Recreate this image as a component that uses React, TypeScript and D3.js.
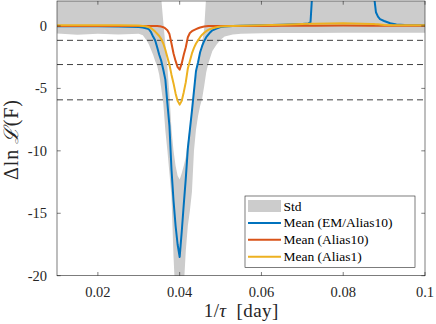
import { useEffect, useRef } from "react";
import * as d3 from "d3";

// x grid (1/tau, per day)
const freq = [
  0.010, 0.015, 0.020, 0.025, 0.030, 0.031,
  0.0320, 0.0325, 0.0330, 0.0335, 0.0340, 0.0345, 0.0350, 0.0355, 0.0360, 0.0365,
  0.0370, 0.0375, 0.0380, 0.0385, 0.0390, 0.0395, 0.0400, 0.0405, 0.0410, 0.0415,
  0.0420, 0.0425, 0.0430, 0.0435, 0.0440, 0.0445, 0.0450, 0.0455, 0.0460, 0.0465,
  0.0470, 0.0475, 0.0480, 0.049, 0.050, 0.051, 0.053, 0.055, 0.060, 0.065,
  0.070, 0.0715, 0.0720, 0.0725, 0.0730, 0.080, 0.0870, 0.0875, 0.0880, 0.0885,
  0.0890, 0.0900, 0.0915, 0.0930, 0.0950, 0.100,
];

const meanEM = [
  -0.03, -0.03, -0.03, -0.04, -0.08, -0.12,
  -0.2, -0.28, -0.5, -0.85, -1.15, -1.7, -2.3, -2.8, -3.5, -4.3,
  -6.2, -8.0, -11.5, -14.0, -16.0, -17.5, -18.5, -16.5, -14.3, -12.2,
  -9.8, -8.3, -6.8, -5.2, -3.6, -2.9, -2.1, -1.6, -1.2, -0.9,
  -0.7, -0.5, -0.35, -0.2, -0.08, -0.04, 0.0, 0.02, 0.05, 0.1,
  0.15, 0.2, 0.3, 3.0, 12, 12, 12, 2.5, 1.1, 0.75,
  0.55, 0.4, 0.22, 0.12, 0.08, 0.05,
];

const meanAlias10 = [
  0.0, 0.0, 0.0, 0.0, 0.0, 0.0,
  0.0, 0.0, 0.0, 0.0, 0.0, 0.0, -0.02, -0.05, -0.1, -0.2,
  -0.35, -0.65, -1.4, -2.2, -2.8, -3.3, -3.5, -3.0, -2.3, -1.7,
  -0.9, -0.56, -0.42, -0.33, -0.25, -0.18, -0.12, -0.08, -0.05, -0.02,
  0.0, 0.0, 0.0, 0.0, 0.0, 0.0, 0.0, 0.0, 0.0, 0.01,
  0.02, 0.02, 0.02, 0.02, 0.02, 0.03, 0.02, 0.02, 0.02, 0.02,
  0.02, 0.02, 0.02, 0.02, 0.02, 0.02,
];

const meanAlias1 = [
  0.05, 0.05, 0.05, 0.05, 0.03, 0.0,
  -0.05, -0.1, -0.17, -0.3, -0.45, -0.62, -0.8, -1.05, -1.4, -1.9,
  -2.5, -3.1, -3.9, -4.6, -5.4, -6.0, -6.3, -6.0, -5.3, -4.5,
  -3.4, -2.8, -2.2, -1.75, -1.4, -1.15, -0.9, -0.7, -0.55, -0.42,
  -0.32, -0.24, -0.18, -0.1, -0.05, -0.02, 0.0, 0.02, 0.05, 0.1,
  0.15, 0.17, 0.17, 0.17, 0.18, 0.22, 0.15, 0.15, 0.14, 0.13,
  0.12, 0.08, 0.06, 0.05, 0.05, 0.05,
];

const stdLow = [
  -0.6, -0.7, -0.62, -0.68, -0.62, -0.75,
  -1.2, -1.5, -1.9, -2.3, -2.8, -3.2, -3.9, -5.0, -6.2, -8.4,
  -10.0, -11.8, -13.7, -18.5, -22, -25, -26, -25, -21, -18,
  -16, -14.8, -13.3, -10, -8.3, -7.2, -6.4, -5.8, -4.8, -3.7,
  -3.0, -2.5, -2.0, -1.5, -1.1, -0.85, -0.68, -0.62, -0.58, -0.57,
  -0.56, -0.56, -0.56, -0.56, -0.56, -0.55, -0.55, -0.55, -0.55, -0.55,
  -0.55, -0.55, -0.55, -0.55, -0.55, -0.55,
];

const stdHigh = [
  3, 3, 3, 3, 3, 3,
  3, 3, 3, 3, 3, 3, 3, 2.2, 0.3, -1.5,
  -3.3, -5.5, -8.3, -10, -11.2, -12, -12.3, -11.8, -11.2, -10.5,
  -9.2, -8.0, -6.6, -5.2, -4.0, -3.1, -2.2, -1.3, -0.2, 2.5,
  3, 3, 3, 3, 3, 3, 3, 3, 3, 3,
  3, 3, 3, 3, 3, 3, 3, 3, 3, 3,
  3, 3, 3, 3, 3, 3,
];

// confidence thresholds
const thresholds = [-1.15, -3.09, -5.915];

const xTicks = [0.02, 0.04, 0.06, 0.08, 0.1];
const yTicks = [0, -5, -10, -15, -20];

const series = [
  { name: "Mean (EM/Alias10)", values: meanEM, color: "#0072BD" },
  { name: "Mean (Alias10)", values: meanAlias10, color: "#D95319" },
  { name: "Mean (Alias1)", values: meanAlias1, color: "#EDB120" },
];

const App = () => {
  const svgRef = useRef<SVGSVGElement>(null);
  const width = 436;
  const height = 324;

  useEffect(() => {
    const svg = d3.select(svgRef.current);
    svg.selectAll("*").remove();

    const left = 57, right = 425, top = 1, bottom = 275.7;
    const axisColor = "#262626";
    const font = "'Liberation Serif', 'Times New Roman', serif";

    const x = d3.scaleLinear().domain([0.01, 0.1]).range([left, right]);
    const y = d3.scaleLinear().domain([-20, 2]).range([bottom, top]);

    svg.append("clipPath").attr("id", "plotclip")
      .append("rect")
      .attr("x", left).attr("y", top)
      .attr("width", right - left).attr("height", bottom - top);

    const plot = svg.append("g").attr("clip-path", "url(#plotclip)");

    const band = d3.area<number>()
      .x((_, i) => x(freq[i]))
      .y0((_, i) => y(stdLow[i]))
      .y1((_, i) => y(stdHigh[i]));

    plot.append("path")
      .attr("d", band(freq))
      .attr("fill", "#cccccc");

    plot.selectAll(".thr")
      .data(thresholds)
      .enter()
      .append("line")
      .attr("x1", left).attr("x2", right)
      .attr("y1", d => y(d)).attr("y2", d => y(d))
      .attr("stroke", "#404040")
      .attr("stroke-width", 1)
      .attr("stroke-dasharray", "6,4");

    series.forEach(s => {
      const line = d3.line<number>()
        .x((_, i) => x(freq[i]))
        .y(d => y(d));
      plot.append("path")
        .attr("d", line(s.values))
        .attr("fill", "none")
        .attr("stroke", s.color)
        .attr("stroke-width", 2)
        .attr("stroke-linejoin", "round");
    });

    // axes box
    const ax = svg.append("g");
    ax.append("rect")
      .attr("x", left).attr("y", top)
      .attr("width", right - left).attr("height", bottom - top)
      .attr("fill", "none")
      .attr("stroke", axisColor)
      .attr("stroke-width", 0.6);

    const tl = 3.7;
    xTicks.forEach(t => {
      ax.append("line").attr("x1", x(t)).attr("x2", x(t))
        .attr("y1", bottom).attr("y2", bottom - tl)
        .attr("stroke", axisColor).attr("stroke-width", 0.6);
      ax.append("line").attr("x1", x(t)).attr("x2", x(t))
        .attr("y1", top).attr("y2", top + tl)
        .attr("stroke", axisColor).attr("stroke-width", 0.6);
      ax.append("text")
        .attr("x", x(t)).attr("y", 297)
        .attr("text-anchor", "middle")
        .attr("font-family", font).attr("font-size", 14.5)
        .attr("fill", axisColor)
        .text(String(t));
    });

    yTicks.forEach(t => {
      ax.append("line").attr("x1", left).attr("x2", left + tl)
        .attr("y1", y(t)).attr("y2", y(t))
        .attr("stroke", axisColor).attr("stroke-width", 0.6);
      ax.append("line").attr("x1", right).attr("x2", right - tl)
        .attr("y1", y(t)).attr("y2", y(t))
        .attr("stroke", axisColor).attr("stroke-width", 0.6);
      ax.append("text")
        .attr("x", 47).attr("y", y(t) + 5)
        .attr("text-anchor", "end")
        .attr("font-family", font).attr("font-size", 14.5)
        .attr("fill", axisColor)
        .text(String(t));
    });

    // axis labels
    const xl = ax.append("text")
      .attr("x", (left + right) / 2).attr("y", 316.7)
      .attr("text-anchor", "middle")
      .attr("font-family", font).attr("font-size", 19)
      .attr("fill", axisColor)
      .attr("textLength", 74.6)
      .attr("lengthAdjust", "spacing");
    xl.append("tspan").text("1/");
    xl.append("tspan").attr("font-style", "italic").text("τ");
    xl.append("tspan").text("\u2002[day]");

    const yl = ax.append("text")
      .attr("transform", `translate(18.3, 140) rotate(-90)`)
      .attr("text-anchor", "middle")
      .attr("font-family", font).attr("font-size", 20)
      .attr("fill", axisColor)
      .attr("textLength", 80)
      .attr("lengthAdjust", "spacing");
    yl.append("tspan").text("Δln\u2009");
    yl.append("tspan").attr("font-family", "'DejaVu Serif', serif").attr("font-style", "italic").text("ℒ");
    yl.append("tspan").text("(F)");

    // legend
    const lg = svg.append("g");
    lg.append("rect")
      .attr("x", 245).attr("y", 196)
      .attr("width", 170).attr("height", 71.3)
      .attr("fill", "white")
      .attr("stroke", axisColor).attr("stroke-width", 0.6);

    const rowY = (i: number) => 206 + i * 16.9;
    lg.append("rect")
      .attr("x", 248).attr("y", rowY(0) - 6)
      .attr("width", 33).attr("height", 12)
      .attr("fill", "#cccccc");
    lg.append("text")
      .attr("x", 283.5).attr("y", rowY(0) + 4.5)
      .attr("font-family", font).attr("font-size", 13.5)
      .attr("fill", "#000")
      .text("Std");

    series.forEach((s, i) => {
      lg.append("line")
        .attr("x1", 248).attr("x2", 281)
        .attr("y1", rowY(i + 1)).attr("y2", rowY(i + 1))
        .attr("stroke", s.color).attr("stroke-width", 2);
      lg.append("text")
        .attr("x", 283.5).attr("y", rowY(i + 1) + 4.5)
        .attr("font-family", font).attr("font-size", 13.5)
        .attr("fill", "#000")
        .text(s.name);
    });
  }, []);

  return (
    <div>
      <svg
        ref={svgRef}
        width={width}
        height={height}
        style={{ position: "absolute", left: 0, top: 0, background: "white" }}
      />
    </div>
  );
};

export default App;
